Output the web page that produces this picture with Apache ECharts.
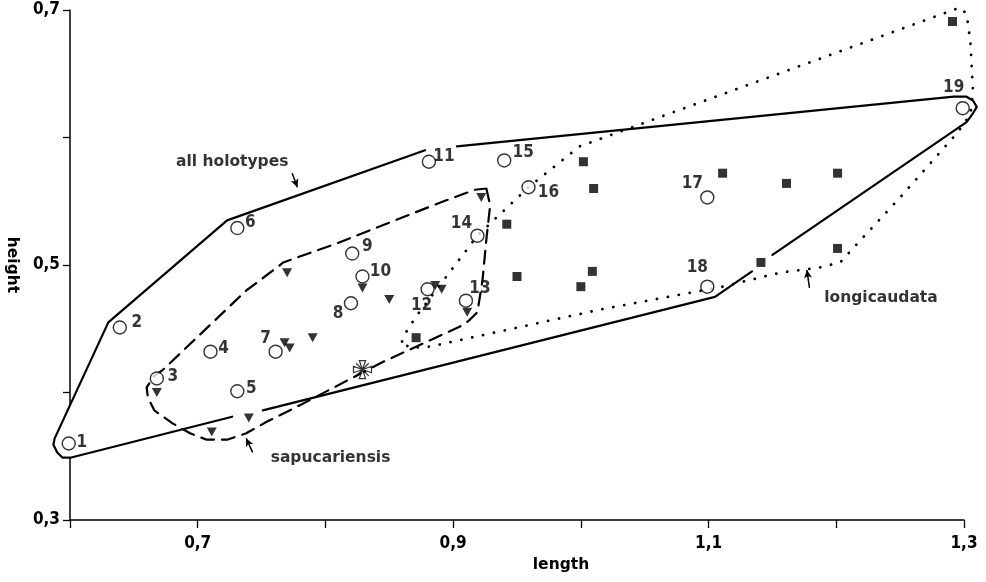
<!DOCTYPE html>
<html><head><meta charset="utf-8">
<script src="https://cdn.jsdelivr.net/npm/echarts@6/dist/echarts.min.js"></script>
<style>html,body{margin:0;padding:0;background:#fff}#c{width:986px;height:582px}</style>
</head><body><div id="c"></div>
<script>
// ---------- DATA ----------
const xTickLabels = ['0,7', '0,9', '1,1', '1,3'];
const yTickLabels = ['0,3', '0,5', '0,7'];

// holotypes (open circles, numbered)
const holoNum = [1, 2, 3, 4, 5, 6, 7, 8, 9, 10, 11, 12, 13, 14, 15, 16, 17, 18, 19];
const holoX = [0.599, 0.639, 0.668, 0.710, 0.731, 0.731, 0.761, 0.820, 0.821, 0.829, 0.881, 0.880, 0.910, 0.919, 0.940, 0.959, 1.099, 1.099, 1.299];
const holoY = [0.360, 0.451, 0.411, 0.432, 0.401, 0.529, 0.432, 0.470, 0.509, 0.491, 0.581, 0.481, 0.472, 0.523, 0.582, 0.561, 0.553, 0.483, 0.623];

// longicaudata (filled squares)
const longiX = [0.871, 0.942, 0.950, 1.002, 1.010, 1.000, 1.009, 1.111, 1.161, 1.201, 1.201, 1.141, 1.291];
const longiY = [0.443, 0.532, 0.491, 0.581, 0.560, 0.483, 0.495, 0.572, 0.564, 0.572, 0.513, 0.502, 0.691];

// sapucariensis (filled down triangles)
const sapuX = [0.668, 0.711, 0.740, 0.770, 0.768, 0.772, 0.790, 0.829, 0.850, 0.886, 0.891, 0.911, 0.922];
const sapuY = [0.400, 0.369, 0.380, 0.494, 0.439, 0.435, 0.443, 0.482, 0.473, 0.484, 0.481, 0.463, 0.553];

// special symbol
const crossX = [0.829];
const crossY = [0.418];

// outline "all holotypes" (solid), drawn in pieces
const allHoloSeg1 = [[0.727, 0.381], [0.601, 0.349], [0.594, 0.349], [0.590, 0.353], [0.587, 0.359], [0.588, 0.364], [0.630, 0.455], [0.723, 0.535], [0.878, 0.590]];
const allHoloSeg2 = [[0.903, 0.593], [1.292, 0.632], [1.302, 0.632], [1.307, 0.629], [1.310, 0.624], [1.307, 0.619], [1.302, 0.612], [1.150, 0.508]];
const allHoloSeg3 = [[1.134, 0.495], [1.105, 0.475], [0.751, 0.386]];

// outline "sapucariensis" (dashed)
const sapuOutline = [[0.926, 0.560], [0.929, 0.547], [0.926, 0.520], [0.923, 0.488], [0.919, 0.463], [0.913, 0.457], [0.908, 0.453], [0.843, 0.423], [0.780, 0.390], [0.754, 0.377], [0.738, 0.368], [0.723, 0.363], [0.707, 0.363], [0.694, 0.368], [0.680, 0.376], [0.666, 0.386], [0.661, 0.396], [0.660, 0.404], [0.666, 0.413], [0.673, 0.418], [0.738, 0.480], [0.762, 0.498], [0.767, 0.502], [0.809, 0.517], [0.890, 0.549], [0.917, 0.559], [0.926, 0.560]];

// outline "longicaudata" (dotted)
const longiOutline = [[0.860, 0.440], [0.864, 0.449], [0.872, 0.461], [0.919, 0.523], [0.959, 0.561], [0.999, 0.593], [1.297, 0.702], [1.302, 0.697], [1.305, 0.675], [1.307, 0.636], [1.305, 0.618], [1.295, 0.604], [1.250, 0.553], [1.213, 0.513], [1.203, 0.502], [1.187, 0.498], [1.156, 0.494], [1.111, 0.483], [1.015, 0.465], [0.882, 0.436], [0.866, 0.435], [0.860, 0.440]];

// annotations
const annoText = ['all holotypes', 'sapucariensis', 'longicaudata'];
const annoPos = [[0.727, 0.581], [0.804, 0.349], [1.235, 0.474]];
const annoArrows = [[[0.774, 0.572], [0.778, 0.561]], [[0.743, 0.353], [0.738, 0.364]], [[1.179, 0.482], [1.177, 0.496]]];

// ---------- STYLE ----------
const NUM_FONT = "'Liberation Sans Narrow','DejaVu Sans Condensed','Liberation Sans',sans-serif";
const TXT_FONT = "'DejaVu Sans','Liberation Sans',sans-serif";
const INK = '#000';
const labelOffset = {1:[13,-1],2:[17,-5],3:[16,-2],4:[13,-3],5:[14,-3],6:[13,-5],7:[-10,-13],8:[-13,10],9:[15,-7],10:[18,-5],
  11:[15,-5],12:[-6,16],13:[14,-12],14:[-16,-12],15:[19,-8],16:[20,5],17:[-15,-14],18:[-10,-19],19:[-9,-21]};

const fmt = v => v.toFixed(1).replace('.', ',');

function outlineSeries(points, dash, width) {
  return {
    type: 'custom', clip: false, silent: true, z: 2,
    data: points,
    encode: { x: 0, y: 1 },
    renderItem: (params, api) => {
      if (params.dataIndex !== 0) return null;
      const pts = points.map(p => api.coord(p));
      return {
        type: 'polyline',
        shape: { points: pts },
        style: { fill: null, stroke: INK, lineWidth: width, lineDash: dash, lineCap: 'round', lineJoin: 'round' }
      };
    }
  };
}

// white interior of the "all holotypes" outline (hides the axis line where the outline passes over it)
const hullAll = allHoloSeg1.concat(allHoloSeg2, allHoloSeg3);
const hullFill = {
  type: 'custom', clip: false, silent: true, z: 1,
  data: hullAll, encode: { x: 0, y: 1 },
  renderItem: (params, api) => {
    if (params.dataIndex !== 0) return null;
    return { type: 'polygon', shape: { points: hullAll.map(p => api.coord(p)) }, style: { fill: '#fff', stroke: null } };
  }
};

const plainText = { color: INK, textBorderWidth: 0, textBorderColor: 'transparent', textShadowBlur: 0 };

const series = [
  hullFill,
  outlineSeries(allHoloSeg1, null, 2.2),
  outlineSeries(allHoloSeg2, null, 2.2),
  outlineSeries(allHoloSeg3, null, 2.2),
  outlineSeries(sapuOutline, [13, 8], 2.2),
  outlineSeries(longiOutline, [0.1, 11], 2.8),
  {
    type: 'scatter', z: 3, clip: false, symbol: 'rect', symbolSize: 9,
    itemStyle: { color: INK },
    data: longiX.map((x, i) => [x, longiY[i]])
  },
  {
    type: 'scatter', z: 3, clip: false, symbol: 'triangle', symbolRotate: 180, symbolSize: [10, 9],
    itemStyle: { color: INK },
    data: sapuX.map((x, i) => [x, sapuY[i]])
  },
  {
    type: 'scatter', z: 4, clip: false, symbol: 'circle', symbolSize: 13,
    itemStyle: { color: '#fff', borderColor: INK, borderWidth: 1.4 },
    data: holoX.map((x, i) => ({
      value: [x, holoY[i]],
      label: Object.assign({
        show: true, position: 'inside', offset: labelOffset[holoNum[i]],
        formatter: String(holoNum[i]), fontSize: 17, fontWeight: 'bold', fontFamily: NUM_FONT
      }, plainText)
    }))
  },
  {
    type: 'scatter', z: 4, clip: false, symbolSize: 18,
    symbol: 'path://M10 10L6.5 0L13.5 0ZM10 10L20 6.5L20 13.5ZM10 10L13.5 20L6.5 20ZM10 10L0 13.5L0 6.5ZM3 3L17 17M17 3L3 17',
    itemStyle: { color: '#fff', borderColor: INK, borderWidth: 1.2 },
    data: crossX.map((x, i) => [x, crossY[i]])
  },
  {
    type: 'scatter', z: 5, clip: false, symbolSize: 0, silent: true,
    itemStyle: { color: INK },
    data: annoPos.map((p, i) => ({
      value: p,
      label: Object.assign({ show: true, position: 'inside', formatter: annoText[i], fontSize: 15.5, fontWeight: 'bold', fontFamily: TXT_FONT }, plainText)
    })),
    markLine: {
      silent: true, symbol: ['none', 'arrow'], symbolSize: [6, 8], animation: false,
      label: { show: false },
      lineStyle: { color: INK, width: 1.5, type: 'solid' },
      data: annoArrows.map(a => [{ coord: a[0] }, { coord: a[1] }])
    }
  }
];

const chart = echarts.init(document.getElementById('c'), null, { renderer: 'canvas' });
chart.setOption({
  animation: false,
  backgroundColor: '#fff',
  grid: { left: 70, right: 22, top: 10, bottom: 62, containLabel: false, outerBoundsMode: 'none' },
  xAxis: {
    type: 'value', min: 0.6, max: 1.3, interval: 0.1,
    name: 'length', nameLocation: 'middle', nameGap: 37,
    nameTextStyle: { color: INK, fontSize: 15.5, fontWeight: 'bold', fontFamily: TXT_FONT, padding: [0, 0, 0, 88] },
    axisLine: { lineStyle: { color: INK, width: 1.5 } },
    axisTick: { inside: false, length: 8, lineStyle: { color: INK, width: 1.3 } },
    axisLabel: {
      margin: 15, color: INK, fontSize: 17, fontWeight: 'bold', fontFamily: NUM_FONT,
      formatter: v => xTickLabels.includes(fmt(v)) ? fmt(v) : ''
    },
    splitLine: { show: false }
  },
  yAxis: {
    type: 'value', min: 0.3, max: 0.7, interval: 0.1,
    name: 'height', nameLocation: 'middle', nameGap: 50, nameRotate: -90,
    nameTextStyle: { color: INK, fontSize: 15.5, fontWeight: 'bold', fontFamily: TXT_FONT },
    axisLine: { show: true, lineStyle: { color: INK, width: 1.5 } },
    axisTick: { show: true, inside: false, length: 7, lineStyle: { color: INK, width: 1.3 } },
    axisLabel: {
      margin: 10, color: INK, fontSize: 17, fontWeight: 'bold', fontFamily: NUM_FONT,
      formatter: v => yTickLabels.includes(fmt(v)) ? fmt(v) : ''
    },
    splitLine: { show: false }
  },
  series: series
});
</script></body></html>
